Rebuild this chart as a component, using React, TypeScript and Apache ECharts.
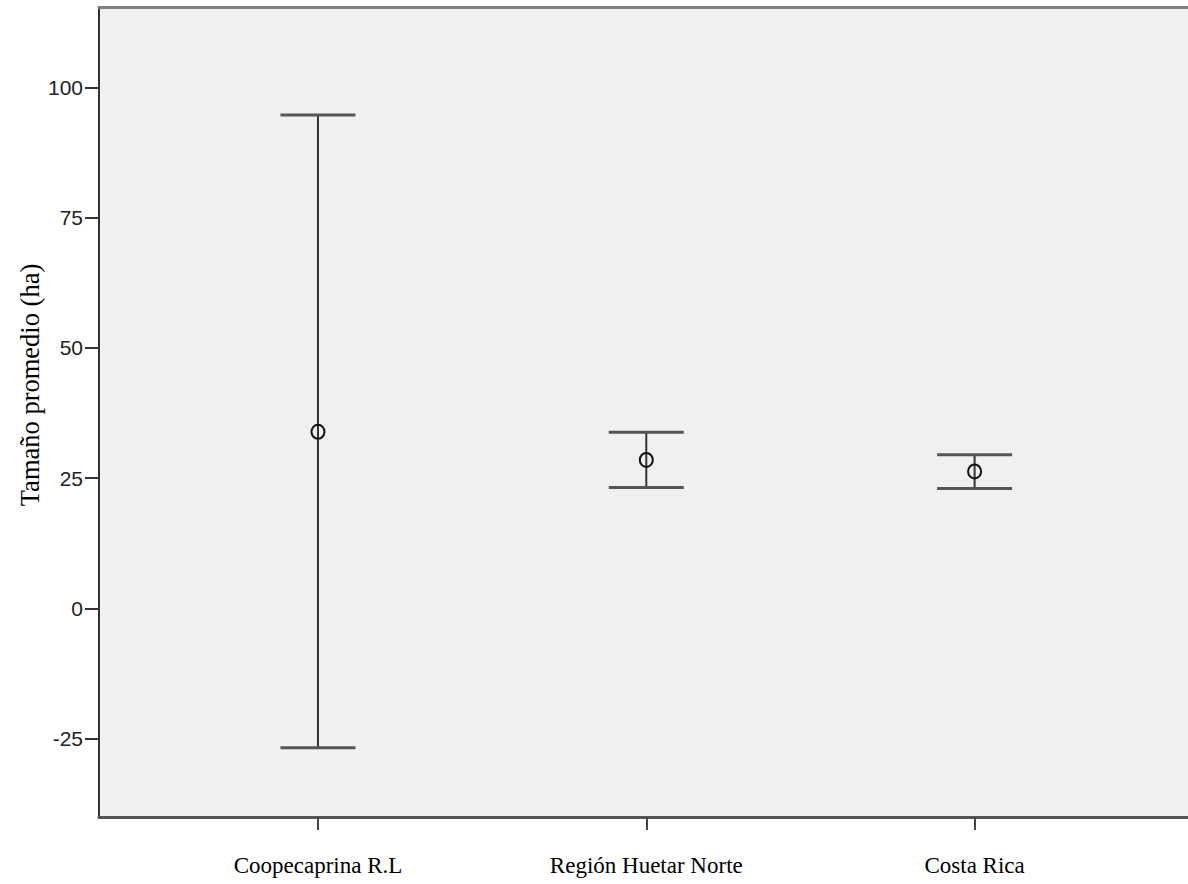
import React, { useEffect, useRef } from "react";
import * as echarts from "echarts";

const categories = ["Coopecaprina R.L", "Región Huetar Norte", "Costa Rica"];
const means = [33.9, 28.5, 26.3];
const lowerCI = [-26.7, 23.2, 23.0];
const upperCI = [94.7, 33.8, 29.5];
const yTicks = [-25, 0, 25, 50, 75, 100];
const xTicks = [1, 2, 3];

export default function App() {
  const ref = useRef<HTMLDivElement>(null);
  useEffect(() => {
    document.body.style.margin = "0";
    const chart = echarts.init(ref.current!, null, { renderer: "svg" });
    const data = categories.map((c, i) => [i + 1, means[i], lowerCI[i], upperCI[i]]);
    const option: any = {
      animation: false,
      backgroundColor: "#ffffff",
      grid: {
        left: 99,
        right: 0,
        top: 7,
        bottom: 67,
        show: true,
        backgroundColor: "#f0f0f0",
        borderWidth: 0,
      },
      xAxis: [
        {
          type: "value",
          min: 0.333,
          max: 3.65,
          position: "bottom",
          splitLine: { show: false },
          axisLine: { show: true, onZero: false, lineStyle: { color: "#555", width: 3 } },
          axisTick: {
            show: true,
            customValues: xTicks,
            length: 13,
            lineStyle: { color: "#444", width: 2 },
          },
          axisLabel: {
            customValues: xTicks,
            formatter: (v: number) => categories[Math.round(v) - 1] ?? "",
            fontFamily: "Liberation Serif",
            fontSize: 23,
            color: "#000",
            margin: 37,
          },
        },
        {
          type: "value",
          min: 0.333,
          max: 3.65,
          position: "top",
          splitLine: { show: false },
          axisLine: { show: true, onZero: false, lineStyle: { color: "#808080", width: 3 } },
          axisTick: { show: false },
          axisLabel: { show: false },
        },
      ],
      yAxis: {
        type: "value",
        min: -40,
        max: 115.4,
        splitLine: { show: false },
        axisLine: { show: true, onZero: false, lineStyle: { color: "#333", width: 2 } },
        axisTick: {
          show: true,
          customValues: yTicks,
          length: 14,
          lineStyle: { color: "#333", width: 2 },
        },
        axisLabel: {
          customValues: yTicks,
          fontFamily: "Liberation Sans",
          fontSize: 21,
          color: "#222",
          margin: 16,
        },
      },
      graphic: [
        {
          type: "text",
          x: 30,
          y: 385,
          rotation: Math.PI / 2,
          style: {
            text: "Tamaño promedio (ha)",
            fontFamily: "Liberation Serif",
            fontSize: 26.5,
            fill: "#000",
            align: "center",
            verticalAlign: "middle",
          },
        },
      ],
      series: [
        {
          type: "custom",
          xAxisIndex: 0,
          yAxisIndex: 0,
          data,
          renderItem: (params: any, api: any) => {
            const x = api.value(0);
            const m = api.value(1);
            const lo = api.value(2);
            const hi = api.value(3);
            const pHi = api.coord([x, hi]);
            const pLo = api.coord([x, lo]);
            const pM = api.coord([x, m]);
            const hw = 37.5;
            return {
              type: "group",
              children: [
                {
                  type: "line",
                  shape: { x1: pHi[0], y1: pHi[1], x2: pLo[0], y2: pLo[1] },
                  style: { stroke: "#333", lineWidth: 2 },
                },
                {
                  type: "line",
                  shape: { x1: pHi[0] - hw, y1: pHi[1], x2: pHi[0] + hw, y2: pHi[1] },
                  style: { stroke: "#555", lineWidth: 3 },
                },
                {
                  type: "line",
                  shape: { x1: pLo[0] - hw, y1: pLo[1], x2: pLo[0] + hw, y2: pLo[1] },
                  style: { stroke: "#555", lineWidth: 3 },
                },
                {
                  type: "ellipse",
                  shape: { cx: pM[0], cy: pM[1], rx: 6.5, ry: 7 },
                  style: { fill: "none", stroke: "#111", lineWidth: 2 },
                },
              ],
            };
          },
        },
      ],
    };
    chart.setOption(option);
    return () => chart.dispose();
  }, []);
  return <div ref={ref} style={{ width: 1188, height: 884 }} />;
}
